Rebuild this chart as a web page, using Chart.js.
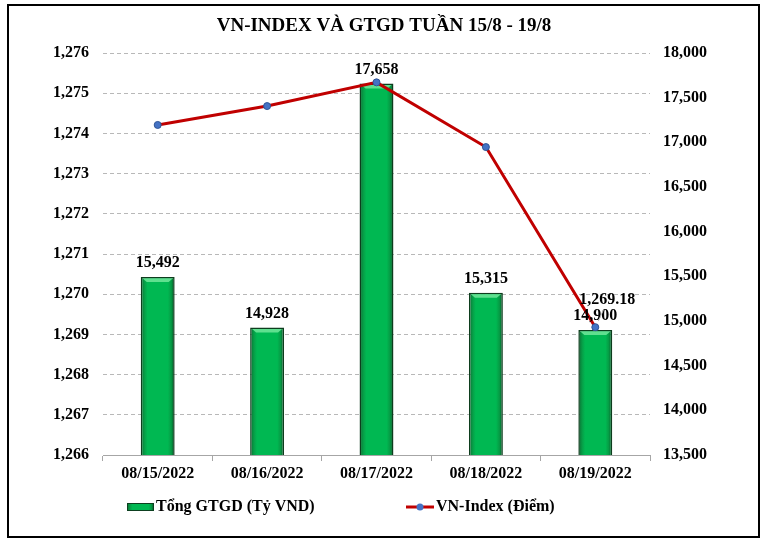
<!DOCTYPE html>
<html>
<head>
<meta charset="utf-8">
<script src="https://cdn.jsdelivr.net/npm/chart.js@4"></script>
<style>
  html, body { margin: 0; padding: 0; background: #fff; }
  canvas { display: block; }
</style>
</head>
<body>
<canvas id="chart" width="768" height="543"></canvas>
<script>
    const dates = ['08/15/2022', '08/16/2022', '08/17/2022', '08/18/2022', '08/19/2022'];
    const gtgd = [15492, 14928, 17658, 15315, 14900];          // Tổng GTGD (Tỷ VND)
    const vnIndex = [1274.21, 1274.68, 1275.27, 1273.66, 1269.18]; // VN-Index (Điểm)
    const indexRange = [1266, 1276, 1];
    const gtgdRange = [13500, 18000, 500];

    const FONT = '"Liberation Serif", "Times New Roman", serif';
    Chart.defaults.font.family = FONT;
    Chart.defaults.color = '#000';

    const fmt = v => Number(v).toLocaleString('en-US');

    function barGradient(ctx, x0, x1) {
      const g = ctx.createLinearGradient(x0, 0, x1, 0);
      g.addColorStop(0, '#0b6e32');
      g.addColorStop(0.12, '#06a048');
      g.addColorStop(0.2, '#00b852');
      g.addColorStop(0.8, '#00b852');
      g.addColorStop(0.9, '#069a44');
      g.addColorStop(1, '#074f24');
      return g;
    }

    // white page + black frame
    const framePlugin = {
      id: 'frame',
      beforeDraw(chart) {
        const ctx = chart.ctx;
        ctx.save();
        ctx.fillStyle = '#fff';
        ctx.fillRect(0, 0, chart.width, chart.height);
        ctx.restore();
      },
      afterDraw(chart) {
        const ctx = chart.ctx;
        ctx.save();
        ctx.strokeStyle = '#000';
        ctx.lineWidth = 2;
        ctx.strokeRect(8, 5, 751, 532);
        ctx.restore();
      }
    };

    // bevel highlight on top of each bar
    const bevelPlugin = {
      id: 'bevel',
      afterDatasetDraw(chart, args) {
        if (args.meta.type !== 'bar') return;
        const ctx = chart.ctx;
        ctx.save();
        args.meta.data.forEach(el => {
          const {x, y, width} = el.getProps(['x', 'y', 'width'], true);
          const l = x - width / 2, r = x + width / 2;
          ctx.fillStyle = '#5fe08f';
          ctx.beginPath();
          ctx.moveTo(l + 2, y + 1.5);
          ctx.lineTo(r - 2, y + 1.5);
          ctx.lineTo(r - 6, y + 5);
          ctx.lineTo(l + 6, y + 5);
          ctx.closePath();
          ctx.fill();
        });
        ctx.restore();
      }
    };

    // value labels
    const labelPlugin = {
      id: 'valueLabels',
      afterDatasetsDraw(chart) {
        const ctx = chart.ctx;
        ctx.save();
        ctx.font = 'bold 16px ' + FONT;
        ctx.fillStyle = '#000';
        ctx.textAlign = 'center';
        ctx.textBaseline = 'middle';
        chart.data.datasets.forEach((ds, i) => {
          const meta = chart.getDatasetMeta(i);
          if (meta.type === 'bar') {
            meta.data.forEach((el, j) => {
              ctx.fillText(fmt(ds.data[j]), el.x, el.y - 14);
            });
          } else {
            const j = ds.data.length - 1;
            const el = meta.data[j];
            ctx.strokeStyle = '#bfbfbf';
            ctx.lineWidth = 1;
            ctx.beginPath();
            ctx.moveTo(el.x + 8, el.y - 17);
            ctx.lineTo(el.x + 3, el.y - 6);
            ctx.stroke();
            ctx.fillText(ds.data[j].toFixed(2).replace(/\B(?=(\d{3})+(?!\d))/, ','), el.x + 12, el.y - 27);
          }
        });
        ctx.restore();
      }
    };

    // legend drawn like the Excel one
    const legendPlugin = {
      id: 'xlLegend',
      afterDraw(chart) {
        const ctx = chart.ctx;
        const y = 507;
        const ds = chart.data.datasets;
        ctx.save();
        // bar marker
        ctx.fillStyle = barGradient(ctx, 127, 154);
        ctx.fillRect(127, y - 4, 27, 8);
        ctx.strokeStyle = '#0d4020';
        ctx.lineWidth = 1;
        ctx.strokeRect(127.5, y - 3.5, 26, 7);
        ctx.font = 'bold 16px ' + FONT;
        ctx.fillStyle = '#000';
        ctx.textBaseline = 'middle';
        ctx.textAlign = 'left';
        ctx.fillText(ds[0].label, 156, y);
        // line marker
        ctx.strokeStyle = ds[1].borderColor;
        ctx.lineWidth = 3;
        ctx.beginPath();
        ctx.moveTo(406, y);
        ctx.lineTo(434, y);
        ctx.stroke();
        ctx.fillStyle = ds[1].pointBackgroundColor;
        ctx.beginPath();
        ctx.arc(420, y, 3.5, 0, Math.PI * 2);
        ctx.fill();
        ctx.fillStyle = '#000';
        ctx.fillText(ds[1].label, 436, y);
        ctx.restore();
      }
    };

    const ctx = document.getElementById('chart').getContext('2d');
    const chart = new Chart(ctx, {
      type: 'bar',
      data: {
        labels: dates,
        datasets: [
          {
            type: 'bar',
            label: 'Tổng GTGD (Tỷ VND)',
            data: gtgd,
            yAxisID: 'y1',
            order: 2,
            barPercentage: 0.31,
            categoryPercentage: 1,
            borderColor: '#0d3d1d',
            borderWidth: 1.5,
            backgroundColor: c => {
              const ch = c.chart;
              if (!ch.chartArea || c.type !== 'data') return '#00b050';
              const xs = ch.scales.x;
              const cx = xs.getPixelForValue(c.dataIndex);
              const half = xs.width / dates.length * 0.31 / 2;
              return barGradient(ch.ctx, cx - half, cx + half);
            }
          },
          {
            type: 'line',
            label: 'VN-Index (Điểm)',
            data: vnIndex,
            yAxisID: 'y',
            order: 1,
            borderColor: '#c00000',
            borderWidth: 3,
            tension: 0,
            pointRadius: 3.5,
            pointBackgroundColor: '#4472c4',
            pointBorderColor: '#2f5597',
            pointBorderWidth: 1
          }
        ]
      },
      options: {
        responsive: false,
        animation: false,
        devicePixelRatio: 1,
        layout: { padding: { left: 0, right: 0, top: 0, bottom: 58 } },
        plugins: {
          legend: { display: false },
          tooltip: { enabled: false },
          title: {
            display: true,
            text: 'VN-INDEX VÀ GTGD TUẦN 15/8 - 19/8',
            font: { size: 19, weight: 'bold' },
            color: '#000',
            padding: { top: 15, bottom: 15.2 }
          }
        },
        scales: {
          x: {
            afterFit: s => { s.height = 30; },
            grid: { drawOnChartArea: false, drawTicks: true, tickLength: 6, tickColor: '#a6a6a6' },
            border: { display: true, color: '#a6a6a6', width: 1 },
            ticks: { font: { size: 16, weight: 'bold' }, color: '#000', padding: 3, maxRotation: 0 }
          },
          y: {
            position: 'left',
            min: indexRange[0],
            max: indexRange[1],
            afterFit: s => { s.width = 103; },
            grid: { color: '#b8b8b8', drawTicks: false },
            border: { display: false, dash: [4, 3] },
            ticks: {
              stepSize: indexRange[2],
              padding: 14,
              font: { size: 16, weight: 'bold' },
              color: '#000',
              callback: v => fmt(v)
            }
          },
          y1: {
            position: 'right',
            min: gtgdRange[0],
            max: gtgdRange[1],
            afterFit: s => { s.width = 118; },
            grid: { drawOnChartArea: false, drawTicks: false },
            border: { display: false },
            ticks: {
              stepSize: gtgdRange[2],
              padding: 13,
              font: { size: 16, weight: 'bold' },
              color: '#000',
              callback: v => fmt(v)
            }
          }
        }
      },
      plugins: [framePlugin, bevelPlugin, labelPlugin, legendPlugin]
    });
</script>
</body>
</html>
